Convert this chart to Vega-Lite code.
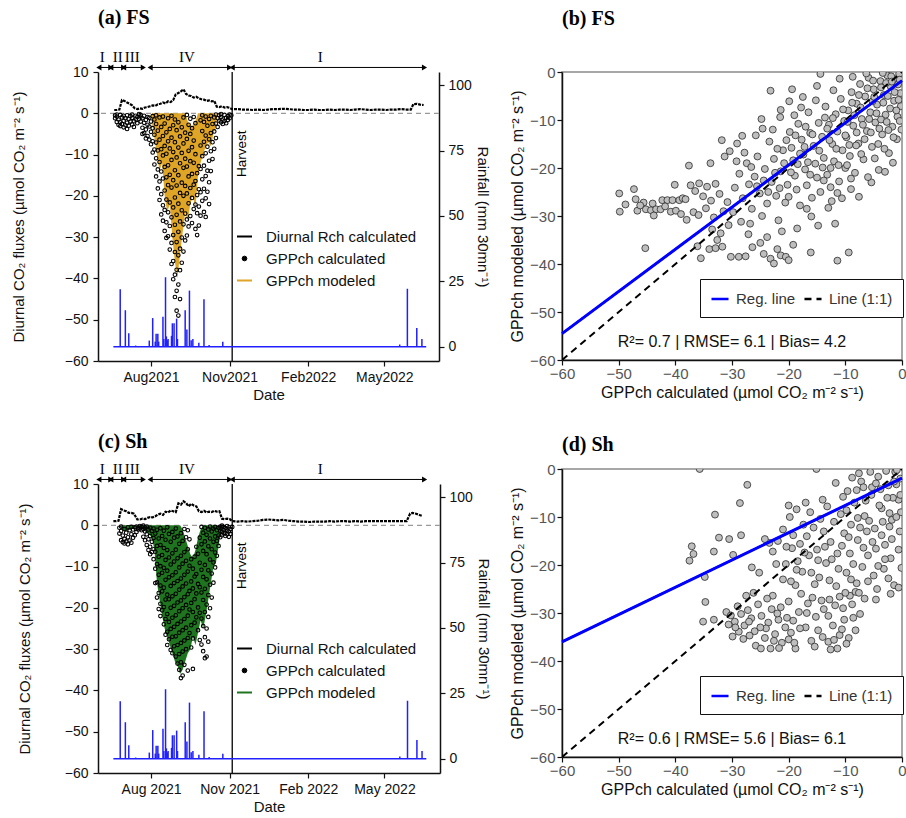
{
"$schema":"https://vega.github.io/schema/vega-lite/v6.json",
"background":"white",
"padding":{"left":11,"top":8,"right":2,"bottom":2},
"config":{
 "view":{"stroke":null},
 "font":"Liberation Sans",
 "axis":{"labelFont":"Liberation Sans","titleFont":"Liberation Sans","titleFontWeight":"normal","domainColor":"#111","tickColor":"#111","labelColor":"#111","titleColor":"#111","grid":false,"labelFontSize":14,"titleFontSize":15,"domainWidth":1.5,"tickWidth":1.2,"tickSize":5,"labelFlush":false,"labelOverlap":false},
 "title":{"font":"Liberation Serif","fontSize":20,"fontWeight":"bold","color":"#000","anchor":"start","frame":"group"}
},
"datasets":{
"phases":[{"p":"I","s":"2021-06-01","e":"2021-06-15","m":"2021-06-05"},{"p":"II","s":"2021-06-15","e":"2021-06-30","m":"2021-06-23"},{"p":"III","s":"2021-06-30","e":"2021-07-23","m":"2021-07-10"},{"p":"IV","s":"2021-07-31","e":"2021-11-01","m":"2021-09-12"},{"p":"I","s":"2021-11-04","e":"2022-06-17","m":"2022-02-15"}],
"rain":[{"d":"2021-06-26","r":22},{"d":"2021-07-02","r":14},{"d":"2021-07-06","r":5.2},{"d":"2021-07-14","r":0.5},{"d":"2021-07-30","r":2.4},{"d":"2021-08-03","r":11},{"d":"2021-08-06","r":2},{"d":"2021-08-07","r":5},{"d":"2021-08-09","r":5},{"d":"2021-08-10","r":2},{"d":"2021-08-15","r":11.5},{"d":"2021-08-16","r":3},{"d":"2021-08-18","r":26.6},{"d":"2021-08-19","r":4},{"d":"2021-08-20","r":2.5},{"d":"2021-08-21","r":3},{"d":"2021-08-25","r":4.2},{"d":"2021-08-26","r":9},{"d":"2021-08-28","r":9},{"d":"2021-08-31","r":10.8},{"d":"2021-09-01","r":3},{"d":"2021-09-10","r":14},{"d":"2021-09-12","r":6.6},{"d":"2021-09-15","r":21.5},{"d":"2021-09-17","r":2.5},{"d":"2021-09-19","r":3},{"d":"2021-09-26","r":1.6},{"d":"2021-10-02","r":18.2},{"d":"2021-10-08","r":0.7},{"d":"2021-10-24","r":2},{"d":"2022-05-19","r":0.9},{"d":"2022-05-28","r":22.2},{"d":"2022-06-08","r":7.2},{"d":"2022-06-14","r":3}],
"rchA":[{"d":"2021-06-19","v":0.8},{"d":"2021-06-22","v":0.8},{"d":"2021-06-25","v":0.9},{"d":"2021-06-28","v":3.2},{"d":"2021-07-01","v":3.0},{"d":"2021-07-04","v":2.6},{"d":"2021-07-07","v":2.3},{"d":"2021-07-10","v":1.9},{"d":"2021-07-13","v":1.2},{"d":"2021-07-16","v":1.0},{"d":"2021-07-19","v":1.2},{"d":"2021-07-22","v":1.1},{"d":"2021-07-25","v":1.4},{"d":"2021-07-28","v":1.5},{"d":"2021-07-31","v":1.7},{"d":"2021-08-03","v":1.9},{"d":"2021-08-06","v":1.8},{"d":"2021-08-09","v":2.2},{"d":"2021-08-12","v":2.3},{"d":"2021-08-15","v":2.6},{"d":"2021-08-18","v":2.4},{"d":"2021-08-21","v":2.9},{"d":"2021-08-24","v":2.7},{"d":"2021-08-27","v":3.2},{"d":"2021-08-30","v":4.6},{"d":"2021-09-02","v":4.9},{"d":"2021-09-05","v":5.3},{"d":"2021-09-08","v":5.8},{"d":"2021-09-11","v":4.7},{"d":"2021-09-14","v":4.3},{"d":"2021-09-17","v":4.2},{"d":"2021-09-20","v":3.8},{"d":"2021-09-23","v":4.0},{"d":"2021-09-26","v":3.6},{"d":"2021-09-29","v":3.4},{"d":"2021-10-02","v":3.3},{"d":"2021-10-05","v":3.0},{"d":"2021-10-08","v":3.1},{"d":"2021-10-11","v":2.9},{"d":"2021-10-14","v":3.0},{"d":"2021-10-17","v":1.6},{"d":"2021-10-20","v":1.5},{"d":"2021-10-23","v":1.7},{"d":"2021-10-26","v":1.4},{"d":"2021-10-29","v":1.5},{"d":"2021-11-01","v":1.3},{"d":"2021-11-04","v":1.0},{"d":"2021-11-10","v":1.0},{"d":"2021-11-16","v":0.9},{"d":"2021-11-22","v":0.9},{"d":"2021-11-28","v":0.8},{"d":"2021-12-04","v":0.9},{"d":"2021-12-10","v":0.8},{"d":"2021-12-16","v":0.9},{"d":"2021-12-22","v":1.0},{"d":"2021-12-28","v":1.0},{"d":"2022-01-03","v":1.1},{"d":"2022-01-09","v":1.0},{"d":"2022-01-15","v":0.9},{"d":"2022-01-21","v":0.9},{"d":"2022-01-27","v":0.8},{"d":"2022-02-02","v":0.8},{"d":"2022-02-08","v":0.9},{"d":"2022-02-14","v":0.8},{"d":"2022-02-20","v":0.8},{"d":"2022-02-26","v":0.9},{"d":"2022-03-04","v":0.8},{"d":"2022-03-10","v":0.9},{"d":"2022-03-16","v":0.9},{"d":"2022-03-22","v":0.8},{"d":"2022-03-28","v":0.9},{"d":"2022-04-03","v":1.0},{"d":"2022-04-09","v":0.9},{"d":"2022-04-15","v":0.8},{"d":"2022-04-21","v":0.9},{"d":"2022-04-27","v":0.9},{"d":"2022-05-03","v":0.8},{"d":"2022-05-09","v":0.9},{"d":"2022-05-15","v":0.9},{"d":"2022-05-21","v":1.0},{"d":"2022-05-27","v":0.9},{"d":"2022-06-01","v":0.9},{"d":"2022-06-04","v":2.2},{"d":"2022-06-08","v":2.3},{"d":"2022-06-12","v":2.1},{"d":"2022-06-16","v":2.0}],
"rchC":[{"d":"2021-06-18","v":1.0},{"d":"2021-06-21","v":1.0},{"d":"2021-06-24","v":1.1},{"d":"2021-06-27","v":3.9},{"d":"2021-06-30","v":3.6},{"d":"2021-07-03","v":3.4},{"d":"2021-07-06","v":3.0},{"d":"2021-07-09","v":3.0},{"d":"2021-07-12","v":2.8},{"d":"2021-07-16","v":1.4},{"d":"2021-07-19","v":1.4},{"d":"2021-07-22","v":1.6},{"d":"2021-07-25","v":1.5},{"d":"2021-07-28","v":1.8},{"d":"2021-07-31","v":2.0},{"d":"2021-08-03","v":1.9},{"d":"2021-08-06","v":2.2},{"d":"2021-08-09","v":2.6},{"d":"2021-08-12","v":2.8},{"d":"2021-08-15","v":2.5},{"d":"2021-08-18","v":3.3},{"d":"2021-08-21","v":3.1},{"d":"2021-08-24","v":3.6},{"d":"2021-08-27","v":3.4},{"d":"2021-08-30","v":3.2},{"d":"2021-09-02","v":5.3},{"d":"2021-09-05","v":5.0},{"d":"2021-09-08","v":5.8},{"d":"2021-09-11","v":5.4},{"d":"2021-09-14","v":4.6},{"d":"2021-09-17","v":5.2},{"d":"2021-09-20","v":4.8},{"d":"2021-09-23","v":4.6},{"d":"2021-09-26","v":3.4},{"d":"2021-09-29","v":3.2},{"d":"2021-10-02","v":3.5},{"d":"2021-10-05","v":3.1},{"d":"2021-10-08","v":3.3},{"d":"2021-10-11","v":3.2},{"d":"2021-10-14","v":3.5},{"d":"2021-10-17","v":3.3},{"d":"2021-10-20","v":3.4},{"d":"2021-10-23","v":1.6},{"d":"2021-10-26","v":1.5},{"d":"2021-10-29","v":1.6},{"d":"2021-11-01","v":1.5},{"d":"2021-11-04","v":1.0},{"d":"2021-11-10","v":0.9},{"d":"2021-11-16","v":1.0},{"d":"2021-11-22","v":0.9},{"d":"2021-11-28","v":1.0},{"d":"2021-12-04","v":1.1},{"d":"2021-12-10","v":1.3},{"d":"2021-12-16","v":1.4},{"d":"2021-12-22","v":1.3},{"d":"2021-12-28","v":1.2},{"d":"2022-01-03","v":1.3},{"d":"2022-01-09","v":1.1},{"d":"2022-01-15","v":1.0},{"d":"2022-01-21","v":0.9},{"d":"2022-01-27","v":0.9},{"d":"2022-02-02","v":0.8},{"d":"2022-02-08","v":0.9},{"d":"2022-02-14","v":0.9},{"d":"2022-02-20","v":0.9},{"d":"2022-02-26","v":1.0},{"d":"2022-03-04","v":0.9},{"d":"2022-03-10","v":1.0},{"d":"2022-03-16","v":1.0},{"d":"2022-03-22","v":0.9},{"d":"2022-03-28","v":1.0},{"d":"2022-04-03","v":0.9},{"d":"2022-04-09","v":1.0},{"d":"2022-04-15","v":1.0},{"d":"2022-04-21","v":1.0},{"d":"2022-04-27","v":1.0},{"d":"2022-05-03","v":1.0},{"d":"2022-05-09","v":1.0},{"d":"2022-05-15","v":1.0},{"d":"2022-05-21","v":1.0},{"d":"2022-05-27","v":1.0},{"d":"2022-05-31","v":2.8},{"d":"2022-06-03","v":3.0},{"d":"2022-06-07","v":2.8},{"d":"2022-06-11","v":2.5},{"d":"2022-06-14","v":2.3}],
"modA":[{"d":"2021-08-02","v":-2,"t":0},{"d":"2021-08-05","v":-6,"t":0},{"d":"2021-08-08","v":-10,"t":0},{"d":"2021-08-11","v":-14,"t":0},{"d":"2021-08-14","v":-12,"t":0},{"d":"2021-08-17","v":-20,"t":0},{"d":"2021-08-20","v":-24,"t":0},{"d":"2021-08-23","v":-22,"t":0},{"d":"2021-08-26","v":-30,"t":0},{"d":"2021-08-29","v":-36,"t":0},{"d":"2021-09-01","v":-40,"t":0},{"d":"2021-09-04","v":-34,"t":0},{"d":"2021-09-07","v":-29,"t":0},{"d":"2021-09-10","v":-24,"t":0},{"d":"2021-09-13","v":-26,"t":-2},{"d":"2021-09-16","v":-22,"t":-3},{"d":"2021-09-19","v":-20,"t":-3},{"d":"2021-09-22","v":-23,"t":-2},{"d":"2021-09-25","v":-15,"t":0},{"d":"2021-09-28","v":-12,"t":0},{"d":"2021-10-01","v":-10,"t":0},{"d":"2021-10-04","v":-8,"t":0},{"d":"2021-10-07","v":-7,"t":0},{"d":"2021-10-10","v":-8,"t":0},{"d":"2021-10-13","v":-5,"t":0},{"d":"2021-10-16","v":-3,"t":0},{"d":"2021-10-18","v":0,"t":0}],
"modC":[{"d":"2021-06-27","v":-0.5,"t":0},{"d":"2021-07-01","v":-1.5,"t":0},{"d":"2021-07-05","v":-1.2,"t":0},{"d":"2021-07-09","v":-1.0,"t":0},{"d":"2021-07-13","v":-0.4,"t":0},{"d":"2021-07-20","v":-0.5,"t":0},{"d":"2021-07-25","v":-1.5,"t":0},{"d":"2021-07-29","v":-2.0,"t":0},{"d":"2021-08-02","v":-3.0,"t":0},{"d":"2021-08-05","v":-6,"t":0},{"d":"2021-08-08","v":-14,"t":0},{"d":"2021-08-11","v":-18,"t":0},{"d":"2021-08-14","v":-22,"t":0},{"d":"2021-08-17","v":-25,"t":0},{"d":"2021-08-20","v":-27,"t":0},{"d":"2021-08-23","v":-29,"t":0},{"d":"2021-08-26","v":-31,"t":0},{"d":"2021-08-29","v":-33,"t":0},{"d":"2021-09-01","v":-34,"t":0},{"d":"2021-09-04","v":-36,"t":0},{"d":"2021-09-07","v":-35,"t":-1},{"d":"2021-09-10","v":-33,"t":-3},{"d":"2021-09-13","v":-31,"t":-5},{"d":"2021-09-16","v":-30,"t":-7},{"d":"2021-09-19","v":-27,"t":-8},{"d":"2021-09-22","v":-29,"t":-6},{"d":"2021-09-25","v":-26,"t":-3},{"d":"2021-09-28","v":-23,"t":-1},{"d":"2021-10-01","v":-25,"t":0},{"d":"2021-10-04","v":-22,"t":0},{"d":"2021-10-07","v":-18,"t":0},{"d":"2021-10-10","v":-14,"t":0},{"d":"2021-10-13","v":-10,"t":0},{"d":"2021-10-16","v":-9,"t":0},{"d":"2021-10-19","v":-5,"t":0},{"d":"2021-10-22","v":-1,"t":0},{"d":"2021-10-24","v":0,"t":0}],
"calcA":[{"d":"2021-06-20","v":-0.5},{"d":"2021-06-20","v":-1.2},{"d":"2021-06-22","v":-0.8},{"d":"2021-06-22","v":-2.1},{"d":"2021-06-22","v":-0.3},{"d":"2021-06-24","v":-1.5},{"d":"2021-06-24","v":-2.8},{"d":"2021-06-26","v":-0.4},{"d":"2021-06-26","v":-2.2},{"d":"2021-06-26","v":-3.1},{"d":"2021-06-28","v":-1.0},{"d":"2021-06-28","v":-2.6},{"d":"2021-06-30","v":-0.6},{"d":"2021-06-30","v":-1.8},{"d":"2021-06-30","v":-3.4},{"d":"2021-07-02","v":-1.2},{"d":"2021-07-02","v":-2.9},{"d":"2021-07-04","v":-0.5},{"d":"2021-07-04","v":-2.3},{"d":"2021-07-04","v":-3.8},{"d":"2021-07-06","v":-1.4},{"d":"2021-07-06","v":-3.0},{"d":"2021-07-08","v":-0.7},{"d":"2021-07-08","v":-2.0},{"d":"2021-07-10","v":-1.1},{"d":"2021-07-10","v":-2.7},{"d":"2021-07-10","v":-0.3},{"d":"2021-07-12","v":-1.9},{"d":"2021-07-12","v":-3.3},{"d":"2021-07-14","v":-0.6},{"d":"2021-07-14","v":-1.5},{"d":"2021-07-16","v":-0.9},{"d":"2021-07-16","v":-2.4},{"d":"2021-07-18","v":-0.2},{"d":"2021-07-18","v":-1.3},{"d":"2021-07-20","v":-0.8},{"d":"2021-07-20","v":-2.0},{"d":"2021-07-20","v":-0.4},{"d":"2021-07-22","v":-1.2},{"d":"2021-07-22","v":-3.5},{"d":"2021-07-22","v":-5.0},{"d":"2021-07-24","v":-2.3},{"d":"2021-07-24","v":-4.8},{"d":"2021-07-24","v":-0.6},{"d":"2021-07-26","v":-1.6},{"d":"2021-07-26","v":-3.9},{"d":"2021-07-26","v":-6.1},{"d":"2021-07-28","v":-0.9},{"d":"2021-07-28","v":-2.8},{"d":"2021-07-28","v":-5.5},{"d":"2021-07-30","v":-3.2},{"d":"2021-07-30","v":-6.4},{"d":"2021-07-30","v":-1.1},{"d":"2021-08-01","v":-2.0},{"d":"2021-08-01","v":-4.5},{"d":"2021-08-01","v":-7.5},{"d":"2021-08-03","v":-0.7},{"d":"2021-08-03","v":-3.6},{"d":"2021-08-03","v":-6.8},{"d":"2021-08-03","v":-9.5},{"d":"2021-08-05","v":-1.5},{"d":"2021-08-05","v":-5.2},{"d":"2021-08-05","v":-8.8},{"d":"2021-08-05","v":-12.4},{"d":"2021-08-07","v":-2.6},{"d":"2021-08-07","v":-7.1},{"d":"2021-08-07","v":-10.9},{"d":"2021-08-07","v":-15.3},{"d":"2021-08-07","v":-0.5},{"d":"2021-08-09","v":-4.2},{"d":"2021-08-09","v":-9.0},{"d":"2021-08-09","v":-13.6},{"d":"2021-08-09","v":-18.2},{"d":"2021-08-11","v":-1.0},{"d":"2021-08-11","v":-6.4},{"d":"2021-08-11","v":-11.8},{"d":"2021-08-11","v":-16.5},{"d":"2021-08-11","v":-21.0},{"d":"2021-08-13","v":-3.3},{"d":"2021-08-13","v":-8.7},{"d":"2021-08-13","v":-14.1},{"d":"2021-08-13","v":-19.6},{"d":"2021-08-13","v":-24.5},{"d":"2021-08-15","v":-0.8},{"d":"2021-08-15","v":-5.5},{"d":"2021-08-15","v":-10.2},{"d":"2021-08-15","v":-15.8},{"d":"2021-08-15","v":-22.3},{"d":"2021-08-15","v":-26.0},{"d":"2021-08-17","v":-2.5},{"d":"2021-08-17","v":-7.9},{"d":"2021-08-17","v":-13.0},{"d":"2021-08-17","v":-18.7},{"d":"2021-08-17","v":-23.4},{"d":"2021-08-17","v":-28.5},{"d":"2021-08-19","v":-4.6},{"d":"2021-08-19","v":-9.8},{"d":"2021-08-19","v":-15.5},{"d":"2021-08-19","v":-20.9},{"d":"2021-08-19","v":-26.4},{"d":"2021-08-19","v":-30.2},{"d":"2021-08-21","v":-1.2},{"d":"2021-08-21","v":-6.8},{"d":"2021-08-21","v":-12.6},{"d":"2021-08-21","v":-17.4},{"d":"2021-08-21","v":-24.0},{"d":"2021-08-21","v":-29.8},{"d":"2021-08-23","v":-3.8},{"d":"2021-08-23","v":-8.5},{"d":"2021-08-23","v":-14.9},{"d":"2021-08-23","v":-21.6},{"d":"2021-08-23","v":-27.3},{"d":"2021-08-23","v":-33.0},{"d":"2021-08-25","v":-0.6},{"d":"2021-08-25","v":-5.9},{"d":"2021-08-25","v":-11.3},{"d":"2021-08-25","v":-18.0},{"d":"2021-08-25","v":-25.2},{"d":"2021-08-25","v":-31.4},{"d":"2021-08-25","v":-36.5},{"d":"2021-08-27","v":-2.9},{"d":"2021-08-27","v":-9.4},{"d":"2021-08-27","v":-16.2},{"d":"2021-08-27","v":-22.8},{"d":"2021-08-27","v":-29.5},{"d":"2021-08-27","v":-35.8},{"d":"2021-08-27","v":-40.2},{"d":"2021-08-29","v":-1.5},{"d":"2021-08-29","v":-7.0},{"d":"2021-08-29","v":-13.8},{"d":"2021-08-29","v":-20.4},{"d":"2021-08-29","v":-27.0},{"d":"2021-08-29","v":-33.6},{"d":"2021-08-29","v":-39.1},{"d":"2021-08-29","v":-44.5},{"d":"2021-08-31","v":-4.1},{"d":"2021-08-31","v":-10.7},{"d":"2021-08-31","v":-17.5},{"d":"2021-08-31","v":-24.6},{"d":"2021-08-31","v":-31.2},{"d":"2021-08-31","v":-37.9},{"d":"2021-08-31","v":-43.0},{"d":"2021-08-31","v":-47.8},{"d":"2021-09-02","v":-2.2},{"d":"2021-09-02","v":-8.3},{"d":"2021-09-02","v":-15.0},{"d":"2021-09-02","v":-21.9},{"d":"2021-09-02","v":-28.7},{"d":"2021-09-02","v":-34.4},{"d":"2021-09-02","v":-41.5},{"d":"2021-09-02","v":-49.0},{"d":"2021-09-04","v":-5.6},{"d":"2021-09-04","v":-12.1},{"d":"2021-09-04","v":-19.3},{"d":"2021-09-04","v":-26.2},{"d":"2021-09-04","v":-32.8},{"d":"2021-09-04","v":-38.0},{"d":"2021-09-04","v":-45.0},{"d":"2021-09-06","v":-3.4},{"d":"2021-09-06","v":-9.6},{"d":"2021-09-06","v":-16.8},{"d":"2021-09-06","v":-23.5},{"d":"2021-09-06","v":-30.1},{"d":"2021-09-06","v":-36.2},{"d":"2021-09-08","v":-1.0},{"d":"2021-09-08","v":-7.3},{"d":"2021-09-08","v":-13.2},{"d":"2021-09-08","v":-20.0},{"d":"2021-09-08","v":-26.9},{"d":"2021-09-08","v":-33.5},{"d":"2021-09-10","v":-4.7},{"d":"2021-09-10","v":-11.0},{"d":"2021-09-10","v":-17.6},{"d":"2021-09-10","v":-24.3},{"d":"2021-09-10","v":-30.8},{"d":"2021-09-12","v":-0.4},{"d":"2021-09-12","v":-6.2},{"d":"2021-09-12","v":-12.9},{"d":"2021-09-12","v":-19.4},{"d":"2021-09-12","v":-25.7},{"d":"2021-09-12","v":-29.6},{"d":"2021-09-14","v":-2.8},{"d":"2021-09-14","v":-9.1},{"d":"2021-09-14","v":-15.3},{"d":"2021-09-14","v":-21.8},{"d":"2021-09-14","v":-27.4},{"d":"2021-09-16","v":-1.3},{"d":"2021-09-16","v":-5.0},{"d":"2021-09-16","v":-11.6},{"d":"2021-09-16","v":-18.1},{"d":"2021-09-16","v":-24.9},{"d":"2021-09-18","v":-3.6},{"d":"2021-09-18","v":-8.2},{"d":"2021-09-18","v":-14.7},{"d":"2021-09-18","v":-20.5},{"d":"2021-09-18","v":-26.6},{"d":"2021-09-20","v":-0.9},{"d":"2021-09-20","v":-6.6},{"d":"2021-09-20","v":-12.0},{"d":"2021-09-20","v":-17.3},{"d":"2021-09-20","v":-23.2},{"d":"2021-09-22","v":-2.4},{"d":"2021-09-22","v":-9.9},{"d":"2021-09-22","v":-16.4},{"d":"2021-09-22","v":-22.1},{"d":"2021-09-22","v":-28.0},{"d":"2021-09-24","v":-14.5},{"d":"2021-09-24","v":-19.8},{"d":"2021-09-24","v":-24.2},{"d":"2021-09-24","v":-29.5},{"d":"2021-09-26","v":-12.8},{"d":"2021-09-26","v":-18.4},{"d":"2021-09-26","v":-22.6},{"d":"2021-09-26","v":-27.2},{"d":"2021-09-28","v":-1.7},{"d":"2021-09-28","v":-7.8},{"d":"2021-09-28","v":-13.5},{"d":"2021-09-28","v":-19.1},{"d":"2021-09-28","v":-24.8},{"d":"2021-09-30","v":-0.5},{"d":"2021-09-30","v":-4.3},{"d":"2021-09-30","v":-10.4},{"d":"2021-09-30","v":-16.0},{"d":"2021-09-30","v":-21.2},{"d":"2021-10-02","v":-2.1},{"d":"2021-10-02","v":-6.9},{"d":"2021-10-02","v":-12.7},{"d":"2021-10-02","v":-18.3},{"d":"2021-10-02","v":-23.9},{"d":"2021-10-04","v":-0.8},{"d":"2021-10-04","v":-5.4},{"d":"2021-10-04","v":-9.7},{"d":"2021-10-04","v":-15.2},{"d":"2021-10-04","v":-20.6},{"d":"2021-10-04","v":-25.1},{"d":"2021-10-06","v":-3.0},{"d":"2021-10-06","v":-8.1},{"d":"2021-10-06","v":-13.9},{"d":"2021-10-06","v":-19.0},{"d":"2021-10-08","v":-1.4},{"d":"2021-10-08","v":-6.3},{"d":"2021-10-08","v":-11.5},{"d":"2021-10-08","v":-16.7},{"d":"2021-10-08","v":-22.0},{"d":"2021-10-10","v":-0.6},{"d":"2021-10-10","v":-4.8},{"d":"2021-10-10","v":-9.2},{"d":"2021-10-10","v":-14.0},{"d":"2021-10-12","v":-2.6},{"d":"2021-10-12","v":-7.0},{"d":"2021-10-12","v":-11.1},{"d":"2021-10-14","v":-1.0},{"d":"2021-10-14","v":-4.4},{"d":"2021-10-14","v":-8.6},{"d":"2021-10-16","v":-0.3},{"d":"2021-10-16","v":-2.5},{"d":"2021-10-16","v":-6.0},{"d":"2021-10-18","v":-1.2},{"d":"2021-10-18","v":-3.3},{"d":"2021-10-20","v":-0.5},{"d":"2021-10-20","v":-1.8},{"d":"2021-10-22","v":-0.9},{"d":"2021-10-22","v":-2.2},{"d":"2021-10-22","v":-0.2},{"d":"2021-10-24","v":-1.5},{"d":"2021-10-24","v":-2.6},{"d":"2021-10-26","v":-0.4},{"d":"2021-10-26","v":-1.9},{"d":"2021-10-28","v":-1.1},{"d":"2021-10-28","v":-2.4},{"d":"2021-10-30","v":-0.7},{"d":"2021-10-30","v":-1.6},{"d":"2021-11-01","v":-0.3},{"d":"2021-11-01","v":-1.2},{"d":"2021-11-03","v":-0.5}],
"calcC":[{"d":"2021-06-25","v":-0.6},{"d":"2021-06-25","v":-2.0},{"d":"2021-06-27","v":-1.4},{"d":"2021-06-27","v":-3.6},{"d":"2021-06-27","v":-0.3},{"d":"2021-06-29","v":-2.5},{"d":"2021-06-29","v":-4.1},{"d":"2021-07-01","v":-0.9},{"d":"2021-07-01","v":-3.3},{"d":"2021-07-01","v":-4.4},{"d":"2021-07-03","v":-1.8},{"d":"2021-07-03","v":-3.9},{"d":"2021-07-05","v":-0.5},{"d":"2021-07-05","v":-2.9},{"d":"2021-07-05","v":-4.6},{"d":"2021-07-07","v":-1.2},{"d":"2021-07-07","v":-3.7},{"d":"2021-07-09","v":-2.2},{"d":"2021-07-09","v":-4.2},{"d":"2021-07-09","v":-0.4},{"d":"2021-07-11","v":-1.0},{"d":"2021-07-11","v":-3.0},{"d":"2021-07-13","v":-0.5},{"d":"2021-07-13","v":-2.4},{"d":"2021-07-15","v":-0.3},{"d":"2021-07-15","v":-1.6},{"d":"2021-07-17","v":-0.6},{"d":"2021-07-17","v":-1.0},{"d":"2021-07-19","v":-0.2},{"d":"2021-07-19","v":-0.8},{"d":"2021-07-21","v":-0.4},{"d":"2021-07-21","v":-1.2},{"d":"2021-07-23","v":-0.1},{"d":"2021-07-23","v":-0.9},{"d":"2021-07-23","v":-2.8},{"d":"2021-07-25","v":-0.5},{"d":"2021-07-25","v":-1.5},{"d":"2021-07-25","v":-3.6},{"d":"2021-07-27","v":-0.3},{"d":"2021-07-27","v":-2.2},{"d":"2021-07-27","v":-4.8},{"d":"2021-07-29","v":-1.0},{"d":"2021-07-29","v":-3.4},{"d":"2021-07-29","v":-6.0},{"d":"2021-07-31","v":-0.6},{"d":"2021-07-31","v":-2.6},{"d":"2021-07-31","v":-5.2},{"d":"2021-07-31","v":-7.0},{"d":"2021-08-02","v":-1.4},{"d":"2021-08-02","v":-4.0},{"d":"2021-08-02","v":-6.5},{"d":"2021-08-04","v":-0.8},{"d":"2021-08-04","v":-3.1},{"d":"2021-08-04","v":-5.8},{"d":"2021-08-04","v":-8.2},{"d":"2021-08-06","v":-2.0},{"d":"2021-08-06","v":-6.4},{"d":"2021-08-06","v":-10.5},{"d":"2021-08-06","v":-14.0},{"d":"2021-08-08","v":-1.1},{"d":"2021-08-08","v":-5.0},{"d":"2021-08-08","v":-9.4},{"d":"2021-08-08","v":-13.8},{"d":"2021-08-08","v":-17.5},{"d":"2021-08-10","v":-3.2},{"d":"2021-08-10","v":-7.6},{"d":"2021-08-10","v":-12.0},{"d":"2021-08-10","v":-16.4},{"d":"2021-08-10","v":-20.3},{"d":"2021-08-12","v":-0.7},{"d":"2021-08-12","v":-4.8},{"d":"2021-08-12","v":-9.9},{"d":"2021-08-12","v":-14.6},{"d":"2021-08-12","v":-19.0},{"d":"2021-08-12","v":-22.0},{"d":"2021-08-14","v":-2.6},{"d":"2021-08-14","v":-7.2},{"d":"2021-08-14","v":-11.5},{"d":"2021-08-14","v":-16.0},{"d":"2021-08-14","v":-20.6},{"d":"2021-08-16","v":-1.3},{"d":"2021-08-16","v":-5.5},{"d":"2021-08-16","v":-10.3},{"d":"2021-08-16","v":-15.1},{"d":"2021-08-16","v":-19.8},{"d":"2021-08-16","v":-24.0},{"d":"2021-08-18","v":-3.5},{"d":"2021-08-18","v":-8.4},{"d":"2021-08-18","v":-13.2},{"d":"2021-08-18","v":-18.0},{"d":"2021-08-18","v":-22.7},{"d":"2021-08-18","v":-26.5},{"d":"2021-08-20","v":-0.5},{"d":"2021-08-20","v":-6.0},{"d":"2021-08-20","v":-11.0},{"d":"2021-08-20","v":-16.8},{"d":"2021-08-20","v":-21.5},{"d":"2021-08-20","v":-25.8},{"d":"2021-08-20","v":-29.0},{"d":"2021-08-22","v":-2.1},{"d":"2021-08-22","v":-7.8},{"d":"2021-08-22","v":-12.6},{"d":"2021-08-22","v":-17.9},{"d":"2021-08-22","v":-23.4},{"d":"2021-08-22","v":-27.6},{"d":"2021-08-24","v":-4.0},{"d":"2021-08-24","v":-9.5},{"d":"2021-08-24","v":-14.7},{"d":"2021-08-24","v":-20.0},{"d":"2021-08-24","v":-25.1},{"d":"2021-08-24","v":-30.2},{"d":"2021-08-26","v":-1.6},{"d":"2021-08-26","v":-6.8},{"d":"2021-08-26","v":-12.1},{"d":"2021-08-26","v":-17.2},{"d":"2021-08-26","v":-22.4},{"d":"2021-08-26","v":-27.0},{"d":"2021-08-26","v":-31.0},{"d":"2021-08-28","v":-3.0},{"d":"2021-08-28","v":-8.8},{"d":"2021-08-28","v":-14.0},{"d":"2021-08-28","v":-19.5},{"d":"2021-08-28","v":-24.6},{"d":"2021-08-28","v":-29.3},{"d":"2021-08-30","v":-0.8},{"d":"2021-08-30","v":-5.9},{"d":"2021-08-30","v":-11.4},{"d":"2021-08-30","v":-16.6},{"d":"2021-08-30","v":-21.8},{"d":"2021-08-30","v":-26.9},{"d":"2021-08-30","v":-31.8},{"d":"2021-09-01","v":-2.7},{"d":"2021-09-01","v":-8.0},{"d":"2021-09-01","v":-13.5},{"d":"2021-09-01","v":-18.7},{"d":"2021-09-01","v":-23.9},{"d":"2021-09-01","v":-29.0},{"d":"2021-09-01","v":-33.5},{"d":"2021-09-03","v":-4.5},{"d":"2021-09-03","v":-10.2},{"d":"2021-09-03","v":-15.6},{"d":"2021-09-03","v":-20.8},{"d":"2021-09-03","v":-26.0},{"d":"2021-09-03","v":-31.2},{"d":"2021-09-03","v":-35.0},{"d":"2021-09-05","v":-1.9},{"d":"2021-09-05","v":-7.4},{"d":"2021-09-05","v":-12.9},{"d":"2021-09-05","v":-18.2},{"d":"2021-09-05","v":-23.3},{"d":"2021-09-05","v":-28.5},{"d":"2021-09-05","v":-33.2},{"d":"2021-09-05","v":-37.0},{"d":"2021-09-07","v":-3.8},{"d":"2021-09-07","v":-9.3},{"d":"2021-09-07","v":-14.8},{"d":"2021-09-07","v":-20.1},{"d":"2021-09-07","v":-25.4},{"d":"2021-09-07","v":-30.6},{"d":"2021-09-07","v":-36.4},{"d":"2021-09-09","v":-0.9},{"d":"2021-09-09","v":-6.5},{"d":"2021-09-09","v":-12.0},{"d":"2021-09-09","v":-17.4},{"d":"2021-09-09","v":-22.7},{"d":"2021-09-09","v":-27.9},{"d":"2021-09-09","v":-33.8},{"d":"2021-09-11","v":-2.9},{"d":"2021-09-11","v":-8.6},{"d":"2021-09-11","v":-14.1},{"d":"2021-09-11","v":-19.3},{"d":"2021-09-11","v":-24.8},{"d":"2021-09-11","v":-30.0},{"d":"2021-09-13","v":-1.2},{"d":"2021-09-13","v":-5.8},{"d":"2021-09-13","v":-11.2},{"d":"2021-09-13","v":-16.7},{"d":"2021-09-13","v":-21.9},{"d":"2021-09-13","v":-27.3},{"d":"2021-09-13","v":-35.2},{"d":"2021-09-15","v":-3.4},{"d":"2021-09-15","v":-9.8},{"d":"2021-09-15","v":-15.9},{"d":"2021-09-15","v":-20.4},{"d":"2021-09-15","v":-26.1},{"d":"2021-09-17","v":-8.2},{"d":"2021-09-17","v":-13.6},{"d":"2021-09-17","v":-18.8},{"d":"2021-09-17","v":-24.2},{"d":"2021-09-17","v":-29.6},{"d":"2021-09-19","v":-10.5},{"d":"2021-09-19","v":-15.3},{"d":"2021-09-19","v":-21.0},{"d":"2021-09-19","v":-27.4},{"d":"2021-09-19","v":-34.8},{"d":"2021-09-21","v":-7.6},{"d":"2021-09-21","v":-12.4},{"d":"2021-09-21","v":-17.9},{"d":"2021-09-21","v":-23.6},{"d":"2021-09-23","v":-5.2},{"d":"2021-09-23","v":-11.8},{"d":"2021-09-23","v":-16.5},{"d":"2021-09-23","v":-22.3},{"d":"2021-09-25","v":-6.9},{"d":"2021-09-25","v":-14.2},{"d":"2021-09-25","v":-19.9},{"d":"2021-09-25","v":-25.4},{"d":"2021-09-27","v":-3.0},{"d":"2021-09-27","v":-9.1},{"d":"2021-09-27","v":-15.0},{"d":"2021-09-27","v":-21.2},{"d":"2021-09-27","v":-27.8},{"d":"2021-09-29","v":-0.4},{"d":"2021-09-29","v":-4.6},{"d":"2021-09-29","v":-10.8},{"d":"2021-09-29","v":-16.3},{"d":"2021-09-29","v":-22.6},{"d":"2021-09-29","v":-28.9},{"d":"2021-10-01","v":-1.8},{"d":"2021-10-01","v":-6.2},{"d":"2021-10-01","v":-12.5},{"d":"2021-10-01","v":-18.1},{"d":"2021-10-01","v":-24.4},{"d":"2021-10-01","v":-30.5},{"d":"2021-10-03","v":-0.6},{"d":"2021-10-03","v":-3.9},{"d":"2021-10-03","v":-9.6},{"d":"2021-10-03","v":-15.4},{"d":"2021-10-03","v":-21.0},{"d":"2021-10-03","v":-27.1},{"d":"2021-10-03","v":-32.2},{"d":"2021-10-05","v":-2.3},{"d":"2021-10-05","v":-7.0},{"d":"2021-10-05","v":-13.1},{"d":"2021-10-05","v":-19.2},{"d":"2021-10-05","v":-25.0},{"d":"2021-10-05","v":-31.8},{"d":"2021-10-07","v":-1.0},{"d":"2021-10-07","v":-5.1},{"d":"2021-10-07","v":-10.9},{"d":"2021-10-07","v":-16.9},{"d":"2021-10-07","v":-22.2},{"d":"2021-10-07","v":-28.2},{"d":"2021-10-09","v":-0.3},{"d":"2021-10-09","v":-3.2},{"d":"2021-10-09","v":-8.3},{"d":"2021-10-09","v":-14.4},{"d":"2021-10-09","v":-20.1},{"d":"2021-10-11","v":-1.5},{"d":"2021-10-11","v":-5.8},{"d":"2021-10-11","v":-11.7},{"d":"2021-10-11","v":-17.5},{"d":"2021-10-13","v":-0.8},{"d":"2021-10-13","v":-4.0},{"d":"2021-10-13","v":-9.0},{"d":"2021-10-13","v":-13.9},{"d":"2021-10-15","v":-0.4},{"d":"2021-10-15","v":-2.7},{"d":"2021-10-15","v":-6.6},{"d":"2021-10-15","v":-10.2},{"d":"2021-10-17","v":-1.2},{"d":"2021-10-17","v":-3.8},{"d":"2021-10-17","v":-7.4},{"d":"2021-10-19","v":-0.6},{"d":"2021-10-19","v":-2.5},{"d":"2021-10-19","v":-5.0},{"d":"2021-10-21","v":-0.3},{"d":"2021-10-21","v":-1.4},{"d":"2021-10-21","v":-2.9},{"d":"2021-10-23","v":-0.5},{"d":"2021-10-23","v":-1.6},{"d":"2021-10-23","v":-2.4},{"d":"2021-10-23","v":-0.1},{"d":"2021-10-25","v":-1.1},{"d":"2021-10-25","v":-2.0},{"d":"2021-10-25","v":-0.4},{"d":"2021-10-27","v":-0.7},{"d":"2021-10-27","v":-1.8},{"d":"2021-10-27","v":-2.6},{"d":"2021-10-29","v":-1.3},{"d":"2021-10-29","v":-2.2},{"d":"2021-10-29","v":-0.2},{"d":"2021-10-31","v":-0.5},{"d":"2021-10-31","v":-1.5},{"d":"2021-10-31","v":-2.8},{"d":"2021-11-02","v":-0.9},{"d":"2021-11-02","v":-2.1},{"d":"2021-11-04","v":-0.4}],
"lnB":[{"l":"Line (1:1)","a":-60,"b":-60},{"l":"Line (1:1)","a":0,"b":0},{"l":"Reg. line","a":-60,"b":-54.5},{"l":"Reg. line","a":0,"b":-1.8}],
"lnD":[{"l":"Line (1:1)","a":-60,"b":-60},{"l":"Line (1:1)","a":0,"b":0},{"l":"Reg. line","a":-60,"b":-36},{"l":"Reg. line","a":0,"b":-1.9}],
"scB":[{"a":-49.9,"b":-25.3},{"a":-49.8,"b":-29.1},{"a":-48.8,"b":-27.6},{"a":-47.3,"b":-24.4},{"a":-47,"b":-26.5},{"a":-46.7,"b":-28.9},{"a":-45.6,"b":-27.2},{"a":-45.2,"b":-28.6},{"a":-44.3,"b":-28.8},{"a":-44.0,"b":-27.4},{"a":-43.4,"b":-28.6},{"a":-42.6,"b":-28.6},{"a":-42.3,"b":-26.7},{"a":-41.4,"b":-26.7},{"a":-40.8,"b":-29.1},{"a":-40.5,"b":-26.7},{"a":-39.9,"b":-28.9},{"a":-39.3,"b":-26.7},{"a":-38.7,"b":-26.3},{"a":-38.2,"b":-26.5},{"a":-38,"b":-30.8},{"a":-40.1,"b":-23.5},{"a":-37.6,"b":-19.5},{"a":-45.3,"b":-36.7},{"a":-41.8,"b":-28.0},{"a":-46.2,"b":-27.8},{"a":-43.8,"b":-29.9},{"a":-39.0,"b":-29.6},{"a":-37.3,"b":-23.6},{"a":-36.5,"b":-24.8},{"a":-35.8,"b":-23.2},{"a":-35.1,"b":-25.9},{"a":-34.4,"b":-23.9},{"a":-33.7,"b":-26.8},{"a":-32.9,"b":-23.3},{"a":-32.2,"b":-25.4},{"a":-36.8,"b":-29.2},{"a":-35.9,"b":-29.8},{"a":-34.6,"b":-28.4},{"a":-33.2,"b":-30.3},{"a":-31.5,"b":-29.0},{"a":-30.8,"b":-27.1},{"a":-36.1,"b":-36.3},{"a":-35.5,"b":-38.8},{"a":-34.0,"b":-36.9},{"a":-32.9,"b":-36.7},{"a":-32.6,"b":-35.0},{"a":-31.7,"b":-36.4},{"a":-33.5,"b":-32.8},{"a":-32.0,"b":-33.6},{"a":-30.6,"b":-31.9},{"a":-31.8,"b":-14.2},{"a":-29.1,"b":-14.9},{"a":-28.2,"b":-13.3},{"a":-31.3,"b":-17.6},{"a":-30.4,"b":-16.5},{"a":-33.8,"b":-19.0},{"a":-30.2,"b":-38.5},{"a":-28.8,"b":-38.5},{"a":-27.6,"b":-38.4},{"a":-24.4,"b":-37.9},{"a":-23.2,"b":-38.9},{"a":-22.6,"b":-39.9},{"a":-21.4,"b":-38.2},{"a":-20.5,"b":-38.5},{"a":-20.0,"b":-39.2},{"a":-16.1,"b":-37.6},{"a":-11.4,"b":-39.3},{"a":-9.4,"b":-37.6},{"a":-26.4,"b":-36.5},{"a":-25.0,"b":-35.6},{"a":-22.0,"b":-36.9},{"a":-19.2,"b":-36.0},{"a":-23.8,"b":-34.4},{"a":-27.1,"b":-33.8},{"a":-18.5,"b":-32.6},{"a":-21.2,"b":-33.2},{"a":-29.5,"b":-24.1},{"a":-28.7,"b":-21.2},{"a":-28.1,"b":-26.3},{"a":-27.4,"b":-19.0},{"a":-27.0,"b":-23.4},{"a":-26.5,"b":-28.5},{"a":-26.0,"b":-21.8},{"a":-25.5,"b":-17.6},{"a":-25.1,"b":-25.3},{"a":-24.7,"b":-30.0},{"a":-24.2,"b":-20.2},{"a":-23.8,"b":-27.4},{"a":-23.4,"b":-14.5},{"a":-23.0,"b":-22.9},{"a":-22.6,"b":-18.1},{"a":-22.2,"b":-25.8},{"a":-21.8,"b":-30.9},{"a":-21.4,"b":-20.7},{"a":-21.0,"b":-16.3},{"a":-20.6,"b":-27.2},{"a":-20.2,"b":-23.5},{"a":-29.8,"b":-29.2},{"a":-28.4,"b":-31.2},{"a":-26.8,"b":-31.6},{"a":-25.8,"b":-13.2},{"a":-24.6,"b":-11.8},{"a":-27.8,"b":-16.8},{"a":-29.2,"b":-18.6},{"a":-23.2,"b":-3.9},{"a":-19.4,"b":-3.6},{"a":-15.0,"b":-2.9},{"a":-21.4,"b":-7.9},{"a":-21.5,"b":-9.4},{"a":-24.8,"b":-9.8},{"a":-22.8,"b":-12.0},{"a":-19.8,"b":-12.5},{"a":-19.5,"b":-15.8},{"a":-19.2,"b":-18.4},{"a":-18.9,"b":-21.6},{"a":-18.6,"b":-24.5},{"a":-18.3,"b":-10.8},{"a":-18.0,"b":-27.8},{"a":-17.7,"b":-14.1},{"a":-17.4,"b":-17.2},{"a":-17.1,"b":-20.3},{"a":-16.8,"b":-23.6},{"a":-16.5,"b":-8.4},{"a":-16.2,"b":-12.7},{"a":-15.9,"b":-26.2},{"a":-15.6,"b":-15.4},{"a":-15.3,"b":-19.1},{"a":-15.0,"b":-22.0},{"a":-14.7,"b":-10.6},{"a":-14.4,"b":-25.0},{"a":-14.1,"b":-13.5},{"a":-13.8,"b":-17.9},{"a":-13.5,"b":-7.2},{"a":-13.2,"b":-21.4},{"a":-12.9,"b":-11.0},{"a":-12.6,"b":-24.0},{"a":-12.3,"b":-15.0},{"a":-12.0,"b":-18.6},{"a":-11.7,"b":-8.8},{"a":-11.4,"b":-12.4},{"a":-11.1,"b":-22.8},{"a":-10.8,"b":-5.6},{"a":-10.5,"b":-16.3},{"a":-10.2,"b":-10.2},{"a":-19.9,"b":-6.1},{"a":-17.5,"b":-5.2},{"a":-16.0,"b":-30.1},{"a":-13.0,"b":-28.3},{"a":-11.8,"b":-31.6},{"a":-14.8,"b":-32.0},{"a":-10.6,"b":-26.3},{"a":-19.0,"b":-9.0},{"a":-18.0,"b":-17.0},{"a":-16.8,"b":-28.5},{"a":-13.6,"b":-9.5},{"a":-12.4,"b":-26.9},{"a":-10.0,"b":-20.0},{"a":-17.8,"b":-7.4},{"a":-15.2,"b":-5.9},{"a":-12.1,"b":-3.8},{"a":-14.4,"b":-0.4},{"a":-11.0,"b":-1.4},{"a":-9.8,"b":-13.6},{"a":-9.5,"b":-8.0},{"a":-9.2,"b":-17.5},{"a":-8.9,"b":-4.2},{"a":-8.6,"b":-11.2},{"a":-8.3,"b":-21.0},{"a":-8.0,"b":-6.6},{"a":-7.7,"b":-14.9},{"a":-7.4,"b":-2.5},{"a":-7.1,"b":-9.8},{"a":-6.8,"b":-18.2},{"a":-6.5,"b":-5.1},{"a":-6.2,"b":-12.3},{"a":-5.9,"b":-1.2},{"a":-5.6,"b":-8.4},{"a":-5.3,"b":-15.6},{"a":-5.0,"b":-3.6},{"a":-4.7,"b":-10.5},{"a":-4.4,"b":-6.8},{"a":-4.1,"b":-20.4},{"a":-3.8,"b":-1.9},{"a":-3.5,"b":-13.0},{"a":-3.2,"b":-4.8},{"a":-2.9,"b":-8.9},{"a":-2.6,"b":-0.7},{"a":-2.3,"b":-16.9},{"a":-2.0,"b":-3.0},{"a":-1.7,"b":-11.4},{"a":-1.4,"b":-6.0},{"a":-1.1,"b":-1.5},{"a":-0.8,"b":-9.3},{"a":-0.5,"b":-0.4},{"a":-0.3,"b":-4.4},{"a":-9.0,"b":-24.4},{"a":-7.6,"b":-26.0},{"a":-5.4,"b":-23.0},{"a":-4.8,"b":-18.0},{"a":-3.0,"b":-20.8},{"a":-1.6,"b":-18.9},{"a":-0.9,"b":-14.0},{"a":-0.4,"b":-10.2},{"a":-6.3,"b":-0.3},{"a":-8.7,"b":-1.0},{"a":-3.4,"b":-0.2},{"a":-1.9,"b":-0.9},{"a":-0.7,"b":-2.6},{"a":-9.7,"b":-19.4},{"a":-7.2,"b":-17.1},{"a":-4.2,"b":-15.0},{"a":-2.4,"b":-12.1},{"a":-0.2,"b":-7.1},{"a":-6.0,"b":-21.9},{"a":-8.1,"b":-15.3},{"a":-3.7,"b":-9.9},{"a":-5.2,"b":-6.1},{"a":-2.8,"b":-2.3},{"a":-19.6,"b":-20.9},{"a":-18.4,"b":-19.2},{"a":-17.2,"b":-15.6},{"a":-16.6,"b":-18.8},{"a":-15.8,"b":-13.0},{"a":-14.6,"b":-16.4},{"a":-14.0,"b":-19.9},{"a":-13.2,"b":-11.8},{"a":-12.8,"b":-14.2},{"a":-12.2,"b":-9.6},{"a":-11.6,"b":-16.0},{"a":-11.2,"b":-19.4},{"a":-10.4,"b":-7.8},{"a":-10.0,"b":-13.2},{"a":-9.6,"b":-10.4},{"a":-9.3,"b":-15.2},{"a":-8.8,"b":-6.4},{"a":-8.4,"b":-9.0},{"a":-8.0,"b":-12.6},{"a":-7.6,"b":-4.8},{"a":-7.3,"b":-7.4},{"a":-6.9,"b":-11.0},{"a":-6.6,"b":-14.0},{"a":-6.1,"b":-3.4},{"a":-5.8,"b":-9.8},{"a":-5.5,"b":-12.6},{"a":-5.1,"b":-1.8},{"a":-4.9,"b":-5.2},{"a":-4.5,"b":-8.6},{"a":-4.0,"b":-11.8},{"a":-3.7,"b":-3.2},{"a":-3.3,"b":-6.4},{"a":-3.1,"b":-16.0},{"a":-2.7,"b":-10.4},{"a":-2.5,"b":-5.0},{"a":-2.1,"b":-7.6},{"a":-1.8,"b":-2.0},{"a":-1.5,"b":-13.6},{"a":-1.3,"b":-4.2},{"a":-1.0,"b":-8.0},{"a":-0.6,"b":-5.8},{"a":-0.4,"b":-1.6},{"a":-0.1,"b":-12.0},{"a":-22.4,"b":-21.0},{"a":-21.6,"b":-24.2},{"a":-20.8,"b":-19.0},{"a":-20.0,"b":-26.0},{"a":-23.6,"b":-25.0},{"a":-24.4,"b":-22.6},{"a":-25.6,"b":-23.8},{"a":-26.6,"b":-19.8},{"a":-22.0,"b":-16.0},{"a":-20.4,"b":-14.2},{"a":-18.8,"b":-13.2},{"a":-17.0,"b":-11.4},{"a":-16.2,"b":-21.4},{"a":-13.8,"b":-22.6},{"a":-12.6,"b":-20.0},{"a":-11.4,"b":-25.2},{"a":-9.0,"b":-22.2}],
"scD":[{"a":-35.7,"b":0},{"a":-15.1,"b":0},{"a":-27.3,"b":-3.3},{"a":-28.6,"b":-7.1},{"a":-33,"b":-9.5},{"a":-37.1,"b":-16.1},{"a":-36.8,"b":-17.7},{"a":-37.5,"b":-19.1},{"a":-32.3,"b":-14.3},{"a":-30.5,"b":-14.6},{"a":-28.4,"b":-13.8},{"a":-33.2,"b":-17.2},{"a":-29.8,"b":-17.9},{"a":-34.8,"b":-22.5},{"a":-34.7,"b":-27.7},{"a":-35.1,"b":-31.8},{"a":-33.2,"b":-31.4},{"a":-29.9,"b":-34.9},{"a":-26.5,"b":-20.5},{"a":-25.2,"b":-21.6},{"a":-31.0,"b":-29.8},{"a":-30.2,"b":-30.5},{"a":-29.5,"b":-31.8},{"a":-29.0,"b":-28.6},{"a":-28.4,"b":-30.2},{"a":-27.8,"b":-32.6},{"a":-27.2,"b":-29.4},{"a":-26.6,"b":-31.1},{"a":-26.0,"b":-33.8},{"a":-25.4,"b":-28.2},{"a":-24.8,"b":-30.6},{"a":-24.2,"b":-35.2},{"a":-23.6,"b":-32.0},{"a":-23.0,"b":-29.2},{"a":-22.4,"b":-34.4},{"a":-21.8,"b":-31.4},{"a":-21.2,"b":-36.2},{"a":-20.6,"b":-33.0},{"a":-20.0,"b":-35.5},{"a":-28.0,"b":-35.4},{"a":-25.8,"b":-36.8},{"a":-24.9,"b":-37.4},{"a":-23.2,"b":-37.4},{"a":-21.7,"b":-37.3},{"a":-18.8,"b":-37.4},{"a":-11.4,"b":-37.4},{"a":-27.5,"b":-26.4},{"a":-26.2,"b":-25.8},{"a":-22.8,"b":-26.4},{"a":-30.6,"b":-32.4},{"a":-24.0,"b":-33.2},{"a":-22.0,"b":-30.1},{"a":-28.8,"b":-33.9},{"a":-26.9,"b":-34.7},{"a":-20.3,"b":-31.0},{"a":-19.6,"b":-34.1},{"a":-21.0,"b":-23.0},{"a":-20.5,"b":-19.8},{"a":-20.0,"b":-27.6},{"a":-19.4,"b":-16.5},{"a":-18.8,"b":-24.2},{"a":-18.2,"b":-29.8},{"a":-17.6,"b":-21.4},{"a":-17.0,"b":-33.0},{"a":-16.4,"b":-18.0},{"a":-15.8,"b":-26.8},{"a":-15.2,"b":-30.8},{"a":-14.6,"b":-22.6},{"a":-14.0,"b":-35.0},{"a":-13.4,"b":-19.6},{"a":-12.8,"b":-27.2},{"a":-12.2,"b":-32.6},{"a":-11.6,"b":-24.4},{"a":-11.0,"b":-34.6},{"a":-10.4,"b":-29.0},{"a":-9.8,"b":-21.6},{"a":-9.2,"b":-26.4},{"a":-8.6,"b":-31.0},{"a":-8.0,"b":-23.8},{"a":-16.0,"b":-35.8},{"a":-13.0,"b":-36.0},{"a":-12.0,"b":-35.6},{"a":-10.6,"b":-33.4},{"a":-9.4,"b":-35.2},{"a":-17.8,"b":-26.0},{"a":-15.4,"b":-24.0},{"a":-13.8,"b":-29.2},{"a":-11.8,"b":-28.4},{"a":-19.2,"b":-31.6},{"a":-14.8,"b":-33.6},{"a":-10.0,"b":-25.8},{"a":-8.8,"b":-28.2},{"a":-7.4,"b":-30.2},{"a":-6.6,"b":-27.0},{"a":-16.8,"b":-30.0},{"a":-18.6,"b":-21.0},{"a":-23.4,"b":-15.4},{"a":-22.8,"b":-17.2},{"a":-21.9,"b":-15.0},{"a":-21.0,"b":-12.6},{"a":-20.4,"b":-16.2},{"a":-19.8,"b":-10.0},{"a":-19.2,"b":-13.8},{"a":-18.6,"b":-8.4},{"a":-18.0,"b":-15.6},{"a":-17.4,"b":-11.6},{"a":-16.8,"b":-14.0},{"a":-16.2,"b":-9.0},{"a":-15.6,"b":-12.2},{"a":-15.0,"b":-16.8},{"a":-14.4,"b":-10.4},{"a":-13.8,"b":-13.0},{"a":-13.2,"b":-7.8},{"a":-12.6,"b":-15.2},{"a":-12.0,"b":-11.0},{"a":-11.4,"b":-17.6},{"a":-10.8,"b":-9.4},{"a":-10.2,"b":-13.4},{"a":-11.7,"b":-2.9},{"a":-7.6,"b":-0.9},{"a":-5.3,"b":-3.8},{"a":-20.0,"b":-7.6},{"a":-17.0,"b":-7.0},{"a":-14.0,"b":-6.4},{"a":-22.2,"b":-19.8},{"a":-24.2,"b":-14.6},{"a":-9.6,"b":-4.6},{"a":-9.0,"b":-11.6},{"a":-8.4,"b":-7.0},{"a":-7.8,"b":-14.8},{"a":-7.2,"b":-2.6},{"a":-6.6,"b":-9.8},{"a":-6.0,"b":-18.0},{"a":-5.4,"b":-5.4},{"a":-4.8,"b":-12.4},{"a":-4.2,"b":-1.6},{"a":-3.6,"b":-8.2},{"a":-3.0,"b":-15.8},{"a":-2.4,"b":-3.4},{"a":-1.8,"b":-10.6},{"a":-1.2,"b":-0.6},{"a":-0.6,"b":-6.4},{"a":-0.3,"b":-2.0},{"a":-9.2,"b":-17.6},{"a":-7.0,"b":-20.4},{"a":-5.0,"b":-22.2},{"a":-3.2,"b":-20.8},{"a":-1.4,"b":-24.2},{"a":-0.6,"b":-24.7},{"a":-8.2,"b":-25.6},{"a":-4.4,"b":-25.0},{"a":-2.0,"b":-18.6},{"a":-0.4,"b":-13.0},{"a":-6.2,"b":-13.0},{"a":-3.8,"b":-4.2},{"a":-1.6,"b":-6.0},{"a":-2.8,"b":-0.4},{"a":-0.9,"b":-0.2},{"a":-5.6,"b":-0.6},{"a":-8.8,"b":-1.8},{"a":-10.4,"b":-5.8},{"a":-4.6,"b":-16.6},{"a":-2.2,"b":-12.0},{"a":-0.2,"b":-9.0},{"a":-6.8,"b":-3.8},{"a":-1.0,"b":-3.2},{"a":-3.4,"b":-11.0},{"a":-7.8,"b":-10.2},{"a":-9.8,"b":-8.6},{"a":-9.4,"b":-14.2},{"a":-8.6,"b":-19.8},{"a":-8.0,"b":-4.4},{"a":-7.4,"b":-12.2},{"a":-6.8,"b":-16.4},{"a":-6.4,"b":-6.6},{"a":-5.8,"b":-10.8},{"a":-5.2,"b":-15.2},{"a":-4.6,"b":-3.0},{"a":-4.0,"b":-7.6},{"a":-3.6,"b":-13.8},{"a":-3.0,"b":-18.8},{"a":-2.6,"b":-6.0},{"a":-2.2,"b":-9.2},{"a":-1.8,"b":-14.6},{"a":-1.4,"b":-2.6},{"a":-1.0,"b":-10.0},{"a":-0.6,"b":-16.8},{"a":-0.3,"b":-5.4},{"a":-0.1,"b":-20.6},{"a":-12.4,"b":-18.8},{"a":-11.2,"b":-20.8},{"a":-10.6,"b":-16.0},{"a":-13.6,"b":-16.2},{"a":-14.8,"b":-19.0},{"a":-16.0,"b":-21.6},{"a":-17.2,"b":-17.4},{"a":-18.4,"b":-19.2},{"a":-19.6,"b":-23.4},{"a":-12.8,"b":-23.2},{"a":-11.0,"b":-26.6},{"a":-9.0,"b":-23.0},{"a":-7.6,"b":-25.8},{"a":-6.0,"b":-23.4},{"a":-4.2,"b":-20.2},{"a":-2.4,"b":-22.8},{"a":-16.6,"b":-28.0},{"a":-14.2,"b":-27.4},{"a":-13.0,"b":-30.6},{"a":-10.2,"b":-31.4},{"a":-8.2,"b":-33.6},{"a":-18.0,"b":-33.2},{"a":-21.4,"b":-28.8},{"a":-23.8,"b":-27.0},{"a":-25.0,"b":-33.0},{"a":-27.0,"b":-31.8},{"a":-29.4,"b":-33.0},{"a":-22.6,"b":-35.8},{"a":-19.0,"b":-36.2},{"a":-15.4,"b":-37.0},{"a":-12.6,"b":-37.6},{"a":-9.8,"b":-36.4},{"a":-2.0,"b":-26.0},{"a":-4.6,"b":-27.2}]
},
"resolve":{"scale":{"color":"independent","strokeDash":"independent"},"legend":{"color":"independent","strokeDash":"independent"}},
"columns":2,
"align":"none",
"spacing":{"row":30,"column":17},
"concat":[
 {"width":341,"height":289,
  "title":{"text":"(a) FS","offset":22},
  "layer":[
   {"layer":[
    {"data":{"values":[{}]},"mark":{"type":"rule","stroke":"#9a9a9a","strokeDash":[5,4],"strokeWidth":1.2},
     "encoding":{"y":{"datum":0,"type":"quantitative","scale":{"domain":[-60,10],"nice":false,"zero":false},"axis":{"orient":"left","values":[-60,-50,-40,-30,-20,-10,0,10],"title":"Diurnal CO₂ fluxes (µmol CO₂ m⁻² s⁻¹)","labelPadding":5,"titlePadding":38}}}},
    {"data":{"name":"rchA"},"mark":{"type":"line","strokeWidth":2.2,"strokeDash":[3,1]},
     "encoding":{"x":{"field":"d","type":"temporal","scale":{"domain":[{"year":2021,"month":5,"date":31},{"year":2022,"month":7,"date":4}],"nice":false},"axis":{"values":[{"year":2021,"month":8,"date":1},{"year":2021,"month":11,"date":1},{"year":2022,"month":2,"date":1},{"year":2022,"month":5,"date":1}],"format":"%b%Y","title":"Date","labelPadding":4,"titlePadding":3}},
      "y":{"field":"v","type":"quantitative"},
      "color":{"datum":"Diurnal Rch calculated","scale":{"domain":["Diurnal Rch calculated","GPPch calculated","GPPch modeled"],"range":["#000000","#000000","#DFA526"]},
       "legend":{"orient":"none","legendX":139,"legendY":157,"title":null,"labelFontSize":15,"labelColor":"#111","rowPadding":6,"labelOffset":14,"padding":0,
        "symbolType":{"expr":"datum.value === 'GPPch calculated' ? 'circle' : 'stroke'"},
        "symbolSize":{"expr":"datum.value === 'GPPch calculated' ? 22 : 225"},
        "symbolStrokeWidth":{"expr":"datum.value === 'GPPch calculated' ? 1 : 2"},
        "symbolFillColor":"transparent"}}}},
    {"data":{"name":"modA"},"mark":{"type":"area","opacity":1},
     "encoding":{"x":{"field":"d","type":"temporal"},"y":{"field":"v","type":"quantitative"},"y2":{"field":"t"},"color":{"datum":"GPPch modeled"}}},
    {"data":{"name":"calcA"},"mark":{"type":"point","filled":false,"size":13,"strokeWidth":1.1,"opacity":1},
     "encoding":{"x":{"field":"d","type":"temporal"},"y":{"field":"v","type":"quantitative"},"color":{"datum":"GPPch calculated"}}},
    {"data":{"values":[{}]},"mark":{"type":"rule","color":"#000","strokeWidth":1.3},
     "encoding":{"x":{"datum":{"year":2021,"month":11,"date":4},"type":"temporal"}}},
    {"data":{"values":[{}]},"mark":{"type":"text","angle":270,"baseline":"top","align":"center","fontSize":13.5,"dy":3,"color":"#000"},
     "encoding":{"x":{"datum":{"year":2021,"month":11,"date":4},"type":"temporal"},"y":{"datum":-9.8},"text":{"value":"Harvest"}}},
    {"data":{"name":"phases"},"mark":{"type":"rule","color":"#000","strokeWidth":1},
     "encoding":{"x":{"field":"s","type":"temporal"},"x2":{"field":"e"},"y":{"datum":11.1}}},
    {"data":{"name":"phases"},"mark":{"type":"point","shape":"triangle-left","filled":true,"size":35,"color":"#000","opacity":1},
     "encoding":{"x":{"field":"s","type":"temporal"},"y":{"datum":11.1}}},
    {"data":{"name":"phases"},"mark":{"type":"point","shape":"triangle-right","filled":true,"size":35,"color":"#000","opacity":1},
     "encoding":{"x":{"field":"e","type":"temporal"},"y":{"datum":11.1}}},
    {"data":{"name":"phases"},"mark":{"type":"text","font":"Liberation Serif","fontSize":15,"baseline":"alphabetic","color":"#000"},
     "encoding":{"x":{"field":"m","type":"temporal"},"y":{"datum":12.4},"text":{"field":"p"}}}
   ]},
   {"layer":[
    {"data":{"name":"rain"},"mark":{"type":"rule","color":"#2020ff","strokeWidth":1.5},
     "encoding":{"x":{"field":"d","type":"temporal"},"y":{"field":"r","type":"quantitative","scale":{"domain":[-5.4,105],"nice":false,"zero":false},"axis":{"orient":"right","values":[0,25,50,75,100],"title":"Rainfall (mm  30mn⁻¹)","labelPadding":4,"titlePadding":3}},"y2":{"datum":0}}},
    {"data":{"values":[{}]},"mark":{"type":"rule","color":"#2020ff","strokeWidth":1.5},
     "encoding":{"x":{"datum":{"year":2021,"month":6,"date":18},"type":"temporal"},"x2":{"datum":{"year":2022,"month":6,"date":19}},"y":{"datum":0}}}
   ]}
  ],
  "resolve":{"scale":{"y":"independent"}}
 },
 {"width":340,"height":288,
  "view":{"stroke":"#8a8a8a","strokeWidth":1.5},
  "title":{"text":"(b) FS","offset":36},
  "layer":[
   {"data":{"name":"scB"},"mark":{"type":"circle","size":48,"fill":"#bebebe","stroke":"#2a2a2a","strokeWidth":0.8,"opacity":1,"clip":true},
    "encoding":{"x":{"field":"a","type":"quantitative","scale":{"domain":[-60,0],"nice":false,"zero":false},"axis":{"values":[-60,-50,-40,-30,-20,-10,0],"title":"GPPch calculated (µmol CO₂ m⁻² s⁻¹)","labelColor":"#555","labelFontSize":15,"titleFontSize":16,"labelPadding":1,"titlePadding":3}},
     "y":{"field":"b","type":"quantitative","scale":{"domain":[-60,0],"nice":false,"zero":false},"axis":{"values":[-60,-50,-40,-30,-20,-10,0],"title":"GPPch modeled (µmol CO₂ m⁻² s⁻¹)","labelColor":"#555","labelFontSize":15,"titleFontSize":16,"labelPadding":2,"titlePadding":4}}}},
   {"data":{"name":"lnB"},"mark":{"type":"line","strokeWidth":2,"clip":true},
    "encoding":{"x":{"field":"a","type":"quantitative"},"y":{"field":"b","type":"quantitative"},
     "color":{"field":"l","type":"nominal","scale":{"domain":["Reg. line","Line (1:1)"],"range":["#0000ff","#000000"]},"legend":{"orient":"none","legendX":138,"legendY":207,"direction":"horizontal","title":null,"strokeColor":"#111","fillColor":"white","padding":10,"labelFontSize":15,"labelColor":"#333","symbolType":"stroke","symbolSize":290,"symbolStrokeWidth":2.5,"columnPadding":3,"labelOffset":6}},
     "strokeDash":{"field":"l","type":"nominal","scale":{"domain":["Reg. line","Line (1:1)"],"range":[[1,0],[7,5]]},"legend":{"orient":"none","legendX":138,"legendY":207,"direction":"horizontal","title":null,"strokeColor":"#111","fillColor":"white","padding":10,"labelFontSize":15,"labelColor":"#333","symbolType":"stroke","symbolSize":290,"symbolStrokeWidth":2.5,"columnPadding":3,"labelOffset":6}}}},
   {"data":{"name":"lnB"},"transform":[{"filter":"datum.l === 'Reg. line'"}],"mark":{"type":"line","strokeWidth":3,"color":"#0000ff"},
    "encoding":{"x":{"field":"a","type":"quantitative"},"y":{"field":"b","type":"quantitative"}}},
   {"data":{"values":[{}]},"mark":{"type":"text","fontSize":16,"color":"#111"},
    "encoding":{"x":{"datum":-30},"y":{"datum":-56.2},"text":{"value":"R²= 0.7 | RMSE= 6.1 | Bias= 4.2"}}}
  ]
 },
 {"width":342,"height":289,
  "title":{"text":"(c) Sh","offset":10},
  "layer":[
   {"layer":[
    {"data":{"values":[{}]},"mark":{"type":"rule","stroke":"#9a9a9a","strokeDash":[5,4],"strokeWidth":1.2},
     "encoding":{"y":{"datum":0,"type":"quantitative","scale":{"domain":[-60,10],"nice":false,"zero":false},"axis":{"orient":"left","values":[-60,-50,-40,-30,-20,-10,0,10],"title":"Diurnal CO₂ fluxes (µmol CO₂ m⁻² s⁻¹)","labelPadding":5,"titlePadding":32}}}},
    {"data":{"name":"rchC"},"mark":{"type":"line","strokeWidth":2.2,"strokeDash":[3,1]},
     "encoding":{"x":{"field":"d","type":"temporal","scale":{"domain":[{"year":2021,"month":5,"date":31},{"year":2022,"month":7,"date":5}],"nice":false},"axis":{"values":[{"year":2021,"month":8,"date":1},{"year":2021,"month":11,"date":1},{"year":2022,"month":2,"date":1},{"year":2022,"month":5,"date":1}],"format":"%b %Y","title":"Date","labelPadding":4,"titlePadding":3}},
      "y":{"field":"v","type":"quantitative"},
      "color":{"datum":"Diurnal Rch calculated","scale":{"domain":["Diurnal Rch calculated","GPPch calculated","GPPch modeled"],"range":["#000000","#000000","#1F751F"]},
       "legend":{"orient":"none","legendX":139,"legendY":157,"title":null,"labelFontSize":15,"labelColor":"#111","rowPadding":6,"labelOffset":14,"padding":0,
        "symbolType":{"expr":"datum.value === 'GPPch calculated' ? 'circle' : 'stroke'"},
        "symbolSize":{"expr":"datum.value === 'GPPch calculated' ? 22 : 225"},
        "symbolStrokeWidth":{"expr":"datum.value === 'GPPch calculated' ? 1 : 2"},
        "symbolFillColor":"transparent"}}}},
    {"data":{"name":"modC"},"mark":{"type":"area","opacity":1},
     "encoding":{"x":{"field":"d","type":"temporal"},"y":{"field":"v","type":"quantitative"},"y2":{"field":"t"},"color":{"datum":"GPPch modeled"}}},
    {"data":{"name":"calcC"},"mark":{"type":"point","filled":false,"size":13,"strokeWidth":1.1,"opacity":1},
     "encoding":{"x":{"field":"d","type":"temporal"},"y":{"field":"v","type":"quantitative"},"color":{"datum":"GPPch calculated"}}},
    {"data":{"values":[{}]},"mark":{"type":"rule","color":"#000","strokeWidth":1.3},
     "encoding":{"x":{"datum":{"year":2021,"month":11,"date":4},"type":"temporal"}}},
    {"data":{"values":[{}]},"mark":{"type":"text","angle":270,"baseline":"top","align":"center","fontSize":13.5,"dy":3,"color":"#000"},
     "encoding":{"x":{"datum":{"year":2021,"month":11,"date":4},"type":"temporal"},"y":{"datum":-9.8},"text":{"value":"Harvest"}}},
    {"data":{"name":"phases"},"mark":{"type":"rule","color":"#000","strokeWidth":1},
     "encoding":{"x":{"field":"s","type":"temporal"},"x2":{"field":"e"},"y":{"datum":11.1}}},
    {"data":{"name":"phases"},"mark":{"type":"point","shape":"triangle-left","filled":true,"size":35,"color":"#000","opacity":1},
     "encoding":{"x":{"field":"s","type":"temporal"},"y":{"datum":11.1}}},
    {"data":{"name":"phases"},"mark":{"type":"point","shape":"triangle-right","filled":true,"size":35,"color":"#000","opacity":1},
     "encoding":{"x":{"field":"e","type":"temporal"},"y":{"datum":11.1}}},
    {"data":{"name":"phases"},"mark":{"type":"text","font":"Liberation Serif","fontSize":15,"baseline":"alphabetic","color":"#000"},
     "encoding":{"x":{"field":"m","type":"temporal"},"y":{"datum":12.4},"text":{"field":"p"}}}
   ]},
   {"layer":[
    {"data":{"name":"rain"},"mark":{"type":"rule","color":"#2020ff","strokeWidth":1.5},
     "encoding":{"x":{"field":"d","type":"temporal"},"y":{"field":"r","type":"quantitative","scale":{"domain":[-5.4,105],"nice":false,"zero":false},"axis":{"orient":"right","values":[0,25,50,75,100],"title":"Rainfall (mm  30mn⁻¹)","labelPadding":4,"titlePadding":3}},"y2":{"datum":0}}},
    {"data":{"values":[{}]},"mark":{"type":"rule","color":"#2020ff","strokeWidth":1.5},
     "encoding":{"x":{"datum":{"year":2021,"month":6,"date":18},"type":"temporal"},"x2":{"datum":{"year":2022,"month":6,"date":19}},"y":{"datum":0}}}
   ]}
  ],
  "resolve":{"scale":{"y":"independent"}}
 },
 {"width":340,"height":288,
  "view":{"stroke":"#8a8a8a","strokeWidth":1.5},
  "title":{"text":["","(d) Sh"],"lineHeight":2,"offset":7},
  "layer":[
   {"data":{"name":"scD"},"mark":{"type":"circle","size":48,"fill":"#bebebe","stroke":"#2a2a2a","strokeWidth":0.8,"opacity":1,"clip":true},
    "encoding":{"x":{"field":"a","type":"quantitative","scale":{"domain":[-60,0],"nice":false,"zero":false},"axis":{"values":[-60,-50,-40,-30,-20,-10,0],"title":"GPPch calculated (µmol CO₂ m⁻² s⁻¹)","labelColor":"#555","labelFontSize":15,"titleFontSize":16,"labelPadding":1,"titlePadding":3}},
     "y":{"field":"b","type":"quantitative","scale":{"domain":[-60,0],"nice":false,"zero":false},"axis":{"values":[-60,-50,-40,-30,-20,-10,0],"title":"GPPch modeled (µmol CO₂ m⁻² s⁻¹)","labelColor":"#555","labelFontSize":15,"titleFontSize":16,"labelPadding":2,"titlePadding":4}}}},
   {"data":{"name":"lnD"},"mark":{"type":"line","strokeWidth":2,"clip":true},
    "encoding":{"x":{"field":"a","type":"quantitative"},"y":{"field":"b","type":"quantitative"},
     "color":{"field":"l","type":"nominal","scale":{"domain":["Reg. line","Line (1:1)"],"range":["#0000ff","#000000"]},"legend":{"orient":"none","legendX":138,"legendY":207,"direction":"horizontal","title":null,"strokeColor":"#111","fillColor":"white","padding":10,"labelFontSize":15,"labelColor":"#333","symbolType":"stroke","symbolSize":290,"symbolStrokeWidth":2.5,"columnPadding":3,"labelOffset":6}},
     "strokeDash":{"field":"l","type":"nominal","scale":{"domain":["Reg. line","Line (1:1)"],"range":[[1,0],[7,5]]},"legend":{"orient":"none","legendX":138,"legendY":207,"direction":"horizontal","title":null,"strokeColor":"#111","fillColor":"white","padding":10,"labelFontSize":15,"labelColor":"#333","symbolType":"stroke","symbolSize":290,"symbolStrokeWidth":2.5,"columnPadding":3,"labelOffset":6}}}},
   {"data":{"name":"lnD"},"transform":[{"filter":"datum.l === 'Reg. line'"}],"mark":{"type":"line","strokeWidth":3,"color":"#0000ff"},
    "encoding":{"x":{"field":"a","type":"quantitative"},"y":{"field":"b","type":"quantitative"}}},
   {"data":{"values":[{}]},"mark":{"type":"text","fontSize":16,"color":"#111"},
    "encoding":{"x":{"datum":-30},"y":{"datum":-56.2},"text":{"value":"R²= 0.6 | RMSE= 5.6 | Bias= 6.1"}}}
  ]
 }
]
}
